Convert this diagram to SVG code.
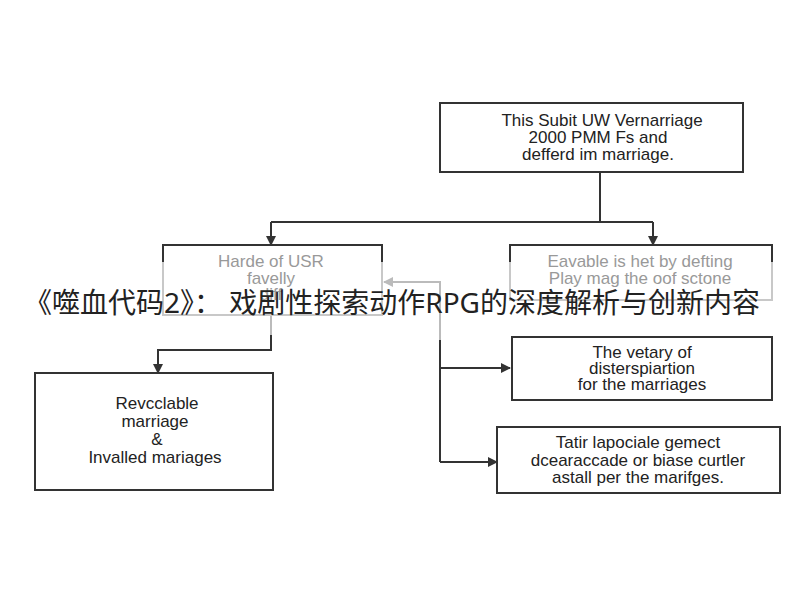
<svg xmlns="http://www.w3.org/2000/svg" width="800" height="600" viewBox="0 0 800 600">
<style>
.b{fill:#fff;stroke:#333;stroke-width:2}
.g{fill:#fff;stroke:#c8c8c8;stroke-width:2}
.t{font-family:"Liberation Sans","DejaVu Sans",sans-serif;font-size:17px;fill:#222;text-anchor:middle}
.tg{font-family:"Liberation Sans","DejaVu Sans",sans-serif;font-size:17px;fill:#999;text-anchor:middle}
.l{fill:none;stroke:#333;stroke-width:2}
.lg{fill:none;stroke:#bbb;stroke-width:2}
</style>
<defs>
<marker id="a" markerWidth="10" markerHeight="10" refX="9" refY="5" orient="auto" markerUnits="userSpaceOnUse"><path d="M0,0L10,5L0,10z" fill="#333"/></marker>
<marker id="ag" markerWidth="10" markerHeight="10" refX="9" refY="5" orient="auto" markerUnits="userSpaceOnUse"><path d="M0,0L10,5L0,10z" fill="#bbb"/></marker>
</defs>
<rect width="800" height="600" fill="#fff"/>
<g id="connectors">
<path class="l" d="M600,172V222"/>
<path class="l" d="M271,222H653"/>
<path class="l" marker-end="url(#a)" d="M271,222V245"/>
<path class="l" marker-end="url(#a)" d="M653,222V245"/>
<path class="lg" d="M271,315V335"/>
<path class="l" marker-end="url(#a)" d="M271,335V350H158V373"/>
<path class="lg" marker-end="url(#ag)" d="M440,340V282H384"/>
<path class="l" d="M440,340V462"/>
<path class="l" marker-end="url(#a)" d="M440,368H510"/>
<path class="l" marker-end="url(#a)" d="M440,462H497"/>
</g>
<g id="top"><rect class="b" x="440" y="103" width="303" height="69"/>
<text class="t" x="602" y="126">This Subit UW Vernarriage</text>
<text class="t" x="598" y="143">2000 PMM Fs and</text>
<text class="t" x="598" y="160">defferd im marriage.</text></g>
<g id="left-mid"><rect class="g" x="163" y="245" width="219" height="70"/>
<path class="l" d="M163,262V245H382V262"/>
<text class="tg" x="271" y="267">Harde of USR</text>
<text class="tg" x="271" y="284">favelly</text>
<text class="tg" x="271" y="300">diff</text></g>
<g id="right-mid"><rect class="g" x="510" y="245" width="262" height="55"/>
<path class="l" d="M510,262V245H772V262"/>
<text class="tg" x="640" y="267">Eavable is het by defting</text>
<text class="tg" x="640" y="284">Play mag the oof sctone</text></g>
<g id="vetary"><rect class="b" x="512" y="337" width="260" height="63"/>
<text class="t" x="642" y="358">The vetary of</text>
<text class="t" x="642" y="374">disterspiartion</text>
<text class="t" x="642" y="390">for the marriages</text></g>
<g id="tatir"><rect class="b" x="497" y="427" width="283" height="66"/>
<text class="t" x="638" y="448">Tatir lapociale gemect</text>
<text class="t" x="638" y="466">dcearaccade or biase curtler</text>
<text class="t" x="638" y="483">astall per the marifges.</text></g>
<g id="revoc"><rect class="b" x="35" y="373" width="238" height="117"/>
<text class="t" x="157" y="409">Revcclable</text>
<text class="t" x="155" y="427">marriage</text>
<text class="t" x="157" y="445">&amp;</text>
<text class="t" x="155" y="463">Invalled mariages</text></g>
<text x="392" y="313" font-family="'Noto Sans','Noto Sans CJK SC',sans-serif" font-size="28" fill="#222" text-anchor="middle">《噬血代码2》： 戏剧性探索动作RPG的深度解析与创新内容</text>
</svg>
